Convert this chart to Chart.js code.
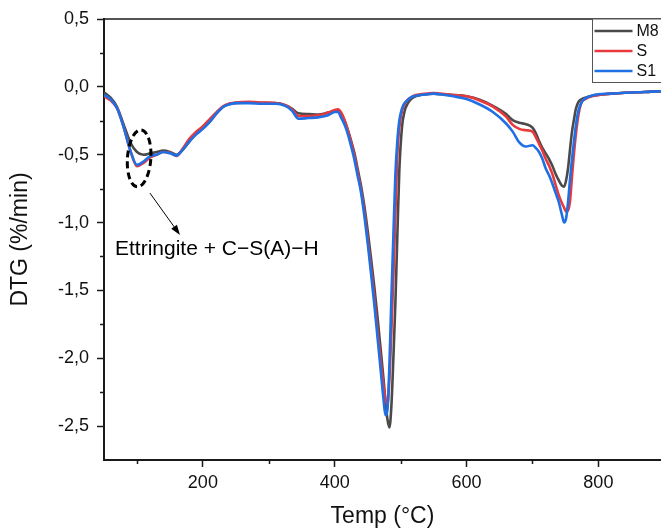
<!DOCTYPE html>
<html><head><meta charset="utf-8">
<script src="https://cdn.jsdelivr.net/npm/chart.js@4"></script>
<style>html,body{margin:0;padding:0;background:#fff;overflow:hidden}canvas{display:block}</style>
</head><body>
<canvas id="c" width="661" height="530"></canvas>
<script>
// ---- data ----
const temps = [50,60,70,80,90,100,110,120,130,140,150,160,170,180,190,200,210,220,230,240,250,
  270,290,310,325,335,345,360,375,390,
  400,405,410,415,420,425,430,435,440,445,450,455,460,465,470,
  474,477,480,483,486,489,492,495,498,
  502,506,510,515,520,530,540,550,560,
  580,600,620,640,660,670,680,690,700,
  705,710,715,720,725,730,735,740,745,
  748,751,754,757,760,763,766,
  770,775,780,790,800,820,840,860,880,895];
const m8 = [-0.04,-0.08,-0.15,-0.28,-0.41,-0.48,-0.50,-0.49,-0.48,-0.47,-0.48,-0.50,-0.46,-0.40,-0.34,-0.30,-0.26,-0.20,-0.15,-0.125,-0.12,
  -0.115,-0.12,-0.12,-0.135,-0.16,-0.195,-0.20,-0.205,-0.19,
  -0.18,-0.175,-0.20,-0.25,-0.32,-0.40,-0.49,-0.61,-0.73,-0.88,-1.06,-1.26,-1.47,-1.70,-1.95,
  -2.15,-2.32,-2.45,-2.51,-2.35,-2.00,-1.60,-1.10,-0.62,
  -0.30,-0.18,-0.13,-0.095,-0.075,-0.06,-0.055,-0.05,-0.055,
  -0.06,-0.07,-0.095,-0.14,-0.20,-0.245,-0.265,-0.275,-0.30,
  -0.34,-0.40,-0.45,-0.49,-0.53,-0.58,-0.64,-0.69,-0.73,
  -0.735,-0.69,-0.60,-0.46,-0.33,-0.24,-0.16,
  -0.11,-0.09,-0.08,-0.065,-0.06,-0.05,-0.043,-0.04,-0.035,-0.033];
const s = [-0.07,-0.10,-0.16,-0.30,-0.47,-0.585,-0.56,-0.52,-0.50,-0.48,-0.485,-0.51,-0.45,-0.38,-0.33,-0.29,-0.24,-0.19,-0.145,-0.125,-0.115,
  -0.11,-0.115,-0.12,-0.135,-0.165,-0.215,-0.215,-0.21,-0.19,
  -0.17,-0.165,-0.19,-0.245,-0.32,-0.41,-0.51,-0.63,-0.76,-0.92,-1.12,-1.33,-1.55,-1.80,-2.03,
  -2.20,-2.30,-2.34,-2.15,-1.80,-1.40,-0.95,-0.50,-0.30,
  -0.18,-0.13,-0.10,-0.08,-0.065,-0.055,-0.05,-0.045,-0.05,
  -0.06,-0.07,-0.10,-0.145,-0.22,-0.28,-0.31,-0.32,-0.33,
  -0.37,-0.42,-0.47,-0.53,-0.58,-0.64,-0.72,-0.80,-0.86,
  -0.89,-0.92,-0.91,-0.84,-0.66,-0.49,-0.345,
  -0.20,-0.11,-0.09,-0.07,-0.06,-0.05,-0.043,-0.04,-0.035,-0.033];
const s1 = [-0.06,-0.09,-0.16,-0.30,-0.47,-0.575,-0.55,-0.51,-0.50,-0.48,-0.49,-0.505,-0.46,-0.40,-0.35,-0.31,-0.26,-0.20,-0.15,-0.13,-0.12,
  -0.12,-0.125,-0.125,-0.14,-0.175,-0.235,-0.23,-0.225,-0.21,
  -0.185,-0.185,-0.23,-0.28,-0.35,-0.44,-0.54,-0.66,-0.78,-0.95,-1.15,-1.37,-1.60,-1.85,-2.10,
  -2.30,-2.42,-2.38,-2.05,-1.55,-1.10,-0.65,-0.40,-0.25,
  -0.16,-0.12,-0.10,-0.08,-0.07,-0.06,-0.055,-0.05,-0.055,
  -0.07,-0.09,-0.13,-0.185,-0.27,-0.33,-0.41,-0.44,-0.43,
  -0.45,-0.48,-0.53,-0.60,-0.65,-0.71,-0.78,-0.85,-0.95,
  -1.00,-0.97,-0.85,-0.68,-0.53,-0.40,-0.28,
  -0.17,-0.11,-0.085,-0.065,-0.055,-0.05,-0.043,-0.04,-0.035,-0.033];
const seriesNames = ['M8','S','S1'];
const seriesValues = [m8, s, s1];
const seriesColors = ['#4a4a4a','#e8393c','#1f6fe5'];
const xMajor = [200,400,600,800];
const xMinor = [100,300,500,700];
const yMajor = [-2.5,-2.0,-1.5,-1.0,-0.5,0.0,0.5];
const yMinor = [-2.25,-1.75,-1.25,-0.75,-0.25,0.25];
const xTitle = 'Temp (°C)';
const yTitle = 'DTG (%/min)';
const noteText = 'Ettringite + C\u2212S(A)\u2212H';

Chart.defaults.font.family = '"Liberation Sans", Arial, sans-serif';
Chart.defaults.color = '#111';

const deco = {
  id: 'deco',
  afterDraw(chart) {
    const {ctx, chartArea: a, scales: {x, y}} = chart;
    ctx.save();
    ctx.strokeStyle = '#1a1a1a';
    // top frame
    ctx.lineWidth = 1.5;
    ctx.beginPath(); ctx.moveTo(a.left, a.top); ctx.lineTo(a.right + 5, a.top); ctx.stroke();
    // minor ticks
    ctx.lineWidth = 1.5;
    xMinor.forEach(v => { const p = Math.round(x.getPixelForValue(v)) + 0.5; ctx.beginPath(); ctx.moveTo(p, a.bottom); ctx.lineTo(p, a.bottom + 4); ctx.stroke(); });
    yMinor.forEach(v => { const p = Math.round(y.getPixelForValue(v)) + 0.5; ctx.beginPath(); ctx.moveTo(a.left - 4, p); ctx.lineTo(a.left, p); ctx.stroke(); });
    // dashed ellipse
    const ex = x.getPixelForValue(103.3), ey = y.getPixelForValue(-0.527);
    ctx.strokeStyle = '#000'; ctx.lineWidth = 3; ctx.setLineDash([7, 4]);
    ctx.beginPath(); ctx.ellipse(ex, ey, 11.7, 28.5, 0.07, 0, Math.PI * 2); ctx.stroke();
    ctx.setLineDash([]);
    // arrow
    const ax0 = x.getPixelForValue(119.7), ay0 = y.getPixelForValue(-0.783);
    const ax1 = x.getPixelForValue(165.2), ay1 = y.getPixelForValue(-1.091);
    const ang = Math.atan2(ay1 - ay0, ax1 - ax0);
    ctx.lineWidth = 1; ctx.strokeStyle = '#000';
    ctx.beginPath(); ctx.moveTo(ax0, ay0); ctx.lineTo(ax1 - 8 * Math.cos(ang), ay1 - 8 * Math.sin(ang)); ctx.stroke();
    ctx.fillStyle = '#000';
    ctx.beginPath();
    ctx.moveTo(ax1, ay1);
    ctx.lineTo(ax1 - 10 * Math.cos(ang) + 3.5 * Math.sin(ang), ay1 - 10 * Math.sin(ang) - 3.5 * Math.cos(ang));
    ctx.lineTo(ax1 - 10 * Math.cos(ang) - 3.5 * Math.sin(ang), ay1 - 10 * Math.sin(ang) + 3.5 * Math.cos(ang));
    ctx.closePath(); ctx.fill();
    // annotation text
    ctx.font = '21px "Liberation Sans", Arial, sans-serif';
    ctx.textBaseline = 'middle'; ctx.textAlign = 'left';
    ctx.fillText(noteText, x.getPixelForValue(66.7), y.getPixelForValue(-1.20));
    // legend
    const lx = 592.5, ly = a.top, lh = 63.5;
    ctx.fillStyle = '#fff';
    ctx.fillRect(lx, ly, 80, lh);
    ctx.strokeStyle = '#555'; ctx.lineWidth = 1;
    ctx.strokeRect(lx, ly, 80, lh);
    ctx.font = '16px "Liberation Sans", Arial, sans-serif';
    seriesNames.forEach((n, i) => {
      const yy = ly + 12 + i * 20;
      ctx.strokeStyle = seriesColors[i]; ctx.lineWidth = 2.5;
      ctx.beginPath(); ctx.moveTo(lx + 2, yy); ctx.lineTo(lx + 40, yy); ctx.stroke();
      ctx.fillStyle = '#111';
      ctx.fillText(n, lx + 44, yy + 1);
    });
    ctx.restore();
  }
};

new Chart(document.getElementById('c'), {
  type: 'line',
  data: {
    datasets: seriesNames.map((n, i) => ({
      label: n,
      data: temps.map((t, j) => ({x: t, y: seriesValues[i][j]})),
      borderColor: seriesColors[i],
      backgroundColor: seriesColors[i],
      borderWidth: 2.6,
      pointRadius: 0,
      cubicInterpolationMode: 'monotone',
      fill: false,
      order: 3 - i
    }))
  },
  options: {
    responsive: false,
    animation: false,
    devicePixelRatio: 1,
    layout: {padding: {top: 19, right: 0, bottom: 0, left: 0}},
    plugins: {legend: {display: false}, tooltip: {enabled: false}},
    scales: {
      x: {
        type: 'linear', min: 50, max: 895,
        afterBuildTicks: sc => { sc.ticks = xMajor.map(v => ({value: v})); },
        afterFit: sc => { sc.height = 70; },
        ticks: {font: {size: 18}, padding: 5, maxRotation: 0, color: '#111', callback: v => String(v)},
        grid: {drawOnChartArea: false, drawTicks: true, tickLength: 7, tickWidth: 1.5, tickColor: '#1a1a1a'},
        border: {display: true, color: '#1a1a1a', width: 2},
        title: {display: true, text: xTitle, font: {size: 23}, color: '#111', padding: {top: 0, bottom: 0}}
      },
      y: {
        type: 'linear', min: -2.75, max: 0.5,
        afterBuildTicks: sc => { sc.ticks = yMajor.map(v => ({value: v})); },
        afterFit: sc => { sc.width = 104; },
        ticks: {font: {size: 18}, padding: 8, color: '#111', callback: v => Number(v).toFixed(1).replace('.', ',')},
        grid: {drawOnChartArea: false, drawTicks: true, tickLength: 7, tickWidth: 1.5, tickColor: '#1a1a1a'},
        border: {display: true, color: '#1a1a1a', width: 2},
        title: {display: true, text: yTitle, font: {size: 23}, color: '#111', padding: {top: 7, bottom: 0}}
      }
    }
  },
  plugins: [deco]
});
</script>
</body></html>
